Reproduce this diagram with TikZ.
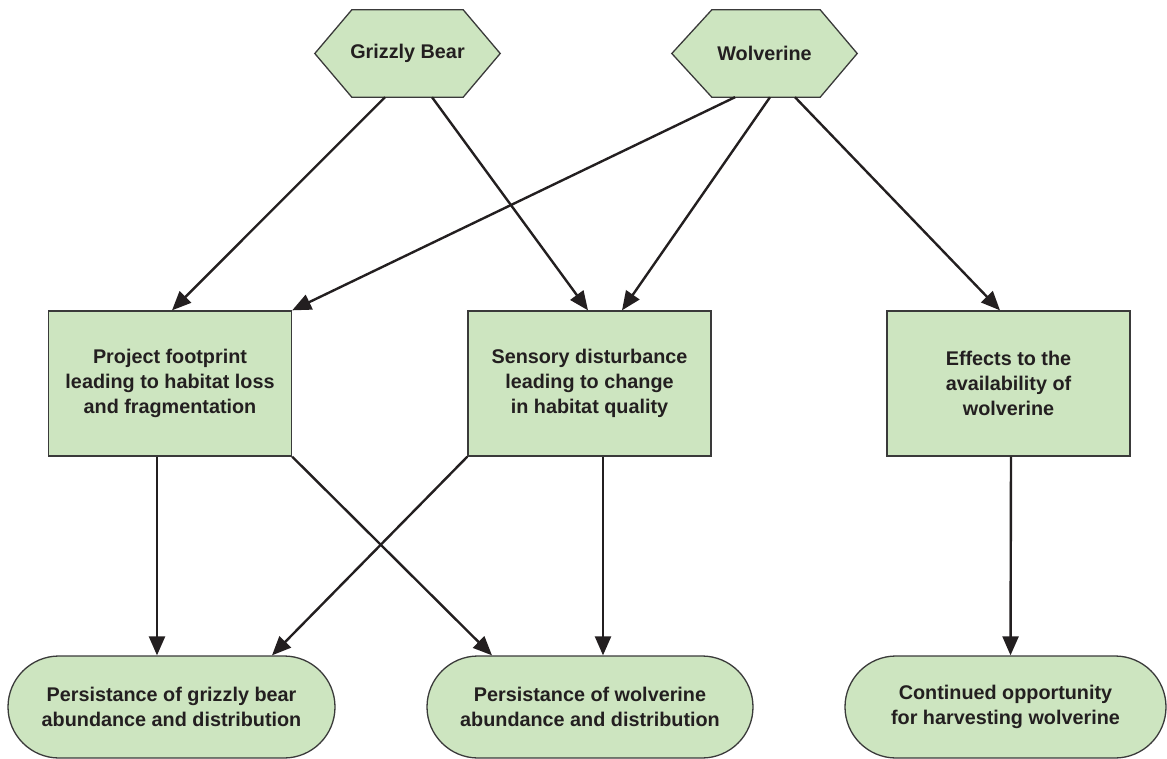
\documentclass[tikz,border=0pt]{standalone}
\usepackage{fontspec}
\setmainfont{Liberation Sans}
\usetikzlibrary{arrows.meta}
\definecolor{boxfill}{HTML}{CDE5C0}
\definecolor{edgecol}{HTML}{3A3A3A}
\definecolor{ink}{HTML}{231F20}
\begin{document}
\begin{tikzpicture}[x=1pt,y=-1pt,
  txt/.style={font=\fontsize{19.8}{25}\selectfont\bfseries, text=ink, align=center},
  hexbox/.style={txt, minimum width=185pt, minimum height=87pt, inner sep=0pt},
  hexline/.style={draw=edgecol, fill=boxfill, line width=1.3pt, line join=miter},
  rectbox/.style={txt, draw=edgecol, fill=boxfill, line width=1.3pt, minimum width=243pt, minimum height=145pt, inner sep=0pt},
  endbox/.style={txt, draw=edgecol, fill=boxfill, line width=1.3pt, rounded corners=51pt, minimum height=102pt, inner sep=0pt},
  arr/.style={-{Triangle[length=19pt,width=16pt]}, line width=2.4pt, draw=ink}]
\useasboundingbox (0,0) rectangle (1167,759);

% hexagons
\node[hexbox] (gb) at (407.5,53.5) {};
\path[hexline] ([xshift=37pt]gb.north west) -- ([xshift=-37pt]gb.north east) -- (gb.east)
  -- ([xshift=-37pt]gb.south east) -- ([xshift=37pt]gb.south west) -- (gb.west) -- cycle;
\node[hexbox] at (gb) {Grizzly Bear};

\node[hexbox] (wv) at (764.5,53.5) {};
\path[hexline] ([xshift=40pt]wv.north west) -- ([xshift=-37pt]wv.north east) -- (wv.east)
  -- ([xshift=-37pt]wv.south east) -- ([xshift=40pt]wv.south west) -- (wv.west) -- cycle;
\node[hexbox] at (wv) {Wolverine};

% middle boxes
\node[rectbox] (pf) at (170,383.5) {Project footprint\\leading to habitat loss\\and fragmentation};
\node[rectbox] (sd) at (589.5,383.5) {Sensory disturbance\\leading to change\\in habitat quality};
\node[rectbox] (ef) at (1008.5,383.5) {Effects to the\\availability of\\wolverine};

% bottom boxes
\node[endbox, minimum width=327pt] (pg) at (171.5,707) {Persistance of grizzly bear\\abundance and distribution};
\node[endbox, minimum width=326pt] (pw) at (590,707) {Persistance of wolverine\\abundance and distribution};
\node[endbox, minimum width=321pt] (co) at (1005.5,707) {Continued opportunity\\for harvesting wolverine};

% connectors
\draw[arr] ([xshift=-22.5pt]gb.south) -- ([xshift=2pt]pf.north);
\draw[arr] ([xshift=24.5pt]gb.south) -- ([xshift=-1.5pt]sd.north);
\draw[arr] ([xshift=-29.5pt]wv.south) -- (pf.north east);
\draw[arr] ([xshift=5.5pt]wv.south) -- ([xshift=32.5pt]sd.north);
\draw[arr] ([xshift=30.5pt]wv.south) -- ([xshift=-8.5pt]ef.north);

\draw[arr] ([xshift=-13pt]pf.south) -- ([xshift=-14.5pt]pg.north);
\draw[arr] (pf.south east) -- ([xshift=-98pt]pw.north);
\draw[arr] (sd.south west) -- ([xshift=100.5pt]pg.north);
\draw[arr] ([xshift=13.5pt]sd.south) -- ([xshift=13pt]pw.north);
\draw[arr] ([xshift=2.5pt]ef.south) -- ([xshift=5pt]co.north);
\end{tikzpicture}
\end{document}
